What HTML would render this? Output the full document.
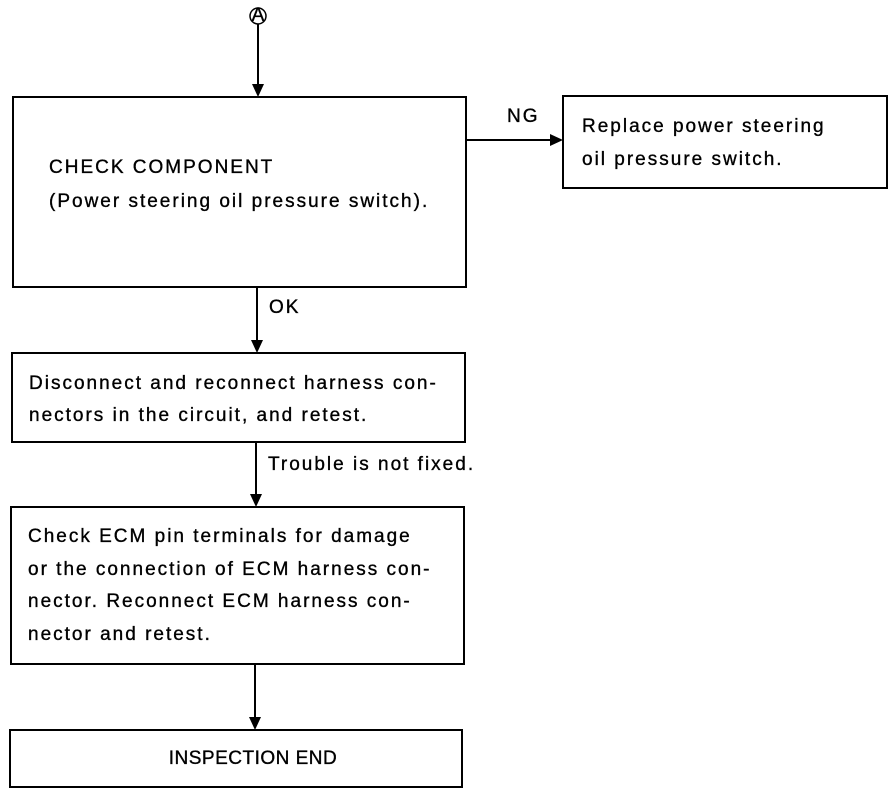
<!DOCTYPE html>
<html><head><meta charset="utf-8"><style>
html,body{margin:0;padding:0;background:#fff;}
svg{display:block}
text{font-family:"Liberation Sans",Arial,sans-serif;font-size:19px;letter-spacing:2px;fill:#000;stroke:#000;stroke-width:0.35;}
</style></head><body>
<svg width="896" height="794" viewBox="0 0 896 794" xmlns="http://www.w3.org/2000/svg">
<g fill="none" stroke="#000" stroke-width="2">
<rect x="13" y="97" width="453" height="190"/>
<rect x="563" y="96" width="324" height="92"/>
<rect x="12" y="353" width="453" height="89"/>
<rect x="11" y="507" width="453" height="157"/>
<rect x="10" y="730" width="452" height="57"/>
<circle cx="258" cy="16" r="8" stroke-width="1.5"/>
<line x1="258" y1="24" x2="258" y2="88"/>
<line x1="466" y1="140" x2="552" y2="140"/>
<line x1="257" y1="287" x2="257" y2="344"/>
<line x1="256" y1="442" x2="256" y2="498"/>
<line x1="255" y1="664" x2="255" y2="721"/>
</g>
<g fill="#000">
<polygon points="252,84 264,84 258,97"/>
<polygon points="550,134 550,146 563,140"/>
<polygon points="251,340 263,340 257,353"/>
<polygon points="250,494 262,494 256,507"/>
<polygon points="249,717 261,717 255,730"/>
</g>
<text x="258" y="21" font-size="12" text-anchor="middle" style="letter-spacing:0">A</text>
<text x="507" y="122">NG</text>
<text x="269" y="313">OK</text>
<text x="268" y="470">Trouble is not fixed.</text>
<text x="49" y="173">CHECK COMPONENT</text>
<text x="49" y="207">(Power steering oil pressure switch).</text>
<text x="582" y="132">Replace power steering</text>
<text x="582" y="165">oil pressure switch.</text>
<text x="29" y="389">Disconnect and reconnect harness con-</text>
<text x="29" y="421">nectors in the circuit, and retest.</text>
<text x="28" y="542">Check ECM pin terminals for damage</text>
<text x="28" y="575">or the connection of ECM harness con-</text>
<text x="28" y="607">nector. Reconnect ECM harness con-</text>
<text x="28" y="640">nector and retest.</text>
<text x="253" y="764" text-anchor="middle" style="letter-spacing:0.5px">INSPECTION END</text>
</svg>
</body></html>
